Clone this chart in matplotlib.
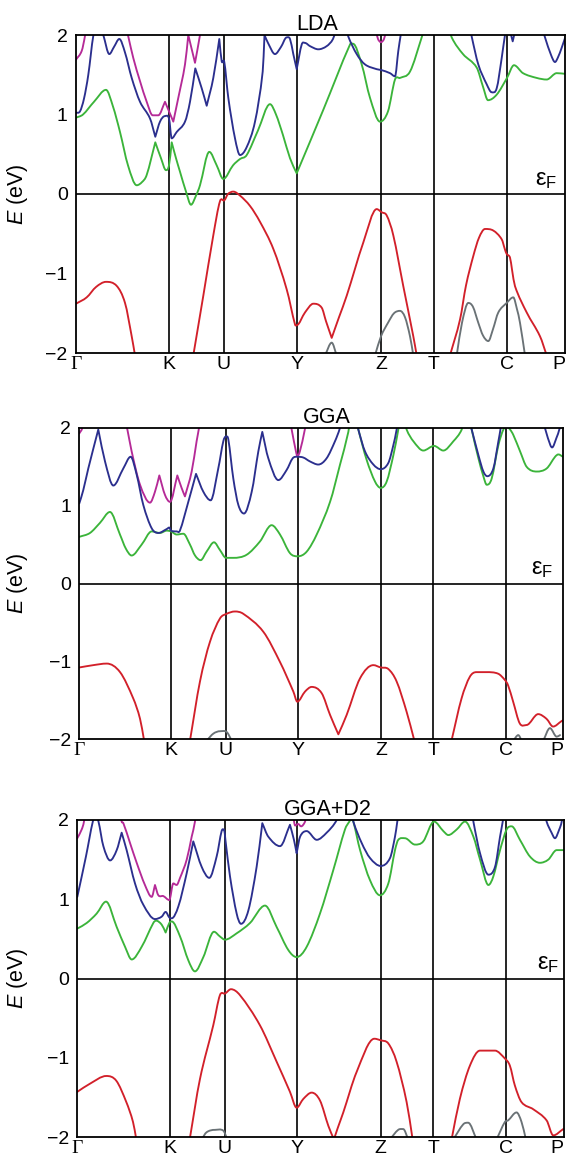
import matplotlib
matplotlib.use('Agg')
import matplotlib.pyplot as plt
from matplotlib.path import Path
from matplotlib.patches import PathPatch
from matplotlib.transforms import ScaledTranslation

plt.rcParams['font.family'] = ['Liberation Sans', 'DejaVu Sans']
plt.rcParams['mathtext.fontset'] = 'custom'
plt.rcParams['mathtext.rm'] = 'Liberation Sans'
plt.rcParams['mathtext.it'] = 'Liberation Sans:italic'

# ---------------- data ----------------
KPOINT_LABELS = ['Γ', 'K', 'U', 'Y', 'Z', 'T', 'C', 'P']
KPOINT_POS = [0, 93, 148, 221, 305, 358, 431, 489]
PANEL_TITLES = ['LDA', 'GGA', 'GGA+D2']
Y_TICKS = [-2, -1, 0, 1, 2]

# ----- LDA -----
LDA_GREEN_A = [(0, 0.96), (7, 1.0), (18, 1.16), (30, 1.31), (37, 1.10), (44, 0.78), (52, 0.36), (60.7, 0.11),
               (66, 0.15), (70.7, 0.24), (79.3, 0.65), (85, 0.45), (90, 0.30), (93, 0.36), (95.7, 0.65), (100, 0.45),
               (104, 0.28), (110, 0.03), (115, -0.135), (120, -0.02), (124, 0.11), (133.3, 0.53), (140.7, 0.36),
               (147.3, 0.19), (157, 0.36), (164, 0.44), (170.7, 0.49), (182, 0.80), (194, 1.13), (200, 1.00),
               (207, 0.74), (214, 0.45), (220.7, 0.26), (247, 1.05), (274, 1.88), (277, 1.89), (285.7, 1.63),
               (294, 1.21), (304, 0.91), (312, 1.04), (319, 1.44), (324, 1.46), (334, 1.54), (345.7, 1.97), (350, 2.15)]
LDA_GREEN_B = [(372, 2.15), (375.7, 1.97), (387, 1.76), (400.7, 1.59), (407, 1.35), (412, 1.18), (420.7, 1.25),
               (431, 1.46), (438, 1.62), (447, 1.52), (460.7, 1.46), (470.7, 1.44), (480.7, 1.52), (490, 1.51)]
LDA_BLUE_A = [(0, 1.02), (4, 1.04), (8, 1.2), (12.3, 1.50), (17.3, 1.99), (22, 2.2), (27.3, 2.0), (33.3, 1.76),
              (38, 1.85), (43.3, 1.95), (49, 1.78), (55.7, 1.46), (64, 1.16), (74, 0.95), (79.3, 0.72), (84, 0.91),
              (89, 0.98), (93, 0.95), (95.7, 0.70), (100.7, 0.78), (109, 0.91), (114, 1.16), (119.3, 1.58),
              (125.7, 1.33), (130.7, 1.11), (137.3, 1.46), (143.3, 1.95), (145.7, 1.67), (148.3, 1.66),
              (152.3, 1.21), (159, 0.70), (164, 0.49), (170.7, 0.59), (179, 0.91), (186.7, 1.54), (188.5, 2.0),
              (192, 1.9), (199, 1.76), (205, 1.85), (210.7, 1.97), (214, 1.95), (217.3, 1.76), (220.7, 1.57),
              (225.7, 1.88), (229, 1.90), (234, 1.86), (242.3, 1.82), (250.7, 1.86), (257, 1.95), (261, 2.1)]
LDA_BLUE_B = [(270, 2.1), (272.3, 1.98), (280.7, 1.76), (289, 1.63), (300.7, 1.57), (305, 1.56), (314, 1.52),
              (319, 1.48), (322.3, 1.80), (324.7, 2.0), (326, 2.1)]
LDA_BLUE_C = [(394, 2.1), (395.7, 1.98), (402.3, 1.63), (410.7, 1.38), (415.7, 1.28), (420.7, 1.33),
              (425.7, 1.71), (429, 2.0), (431, 2.1)]
LDA_BLUE_D = [(433, 2.1), (436.7, 1.92), (440, 2.1)]
LDA_BLUE_E = [(466, 2.1), (469, 1.97), (475, 1.75), (479, 1.66), (482, 1.72), (485.7, 1.84), (490, 2.0)]
LDA_MAGENTA_A = [(0, 1.69), (5.7, 1.80), (9, 1.99), (10, 2.1)]
LDA_MAGENTA_B = [(50, 2.1), (52.3, 1.98), (57.3, 1.71), (64, 1.42), (70.7, 1.16), (76.7, 0.99), (82.3, 0.99),
                 (89, 1.16), (93, 1.04), (97.3, 0.91), (102.3, 1.21), (109, 1.63), (112.3, 2.0), (119, 1.65),
                 (124, 2.0), (125, 2.1)]
LDA_MAGENTA_C = [(300, 2.05), (302, 1.95), (305, 1.91), (308, 1.95), (310, 2.05)]
LDA_RED_A = [(0, -1.38), (10.7, -1.30), (20, -1.17), (30, -1.105), (40.7, -1.156), (49, -1.37), (55.7, -1.79),
             (59, -2.03)]
LDA_RED_B = [(117.3, -2.03), (127.3, -1.28), (137.3, -0.52), (144, -0.09), (148.3, -0.08), (152, 0.0),
             (157.3, 0.03), (164, -0.02), (174, -0.15), (184, -0.35), (197.3, -0.69), (210.7, -1.20),
             (219, -1.64), (220.7, -1.65), (229, -1.49), (237.3, -1.38), (245.7, -1.43), (250, -1.6),
             (255.7, -1.81), (263, -1.55), (270.7, -1.28), (287.3, -0.61), (300.7, -0.19), (305.7, -0.23),
             (310.7, -0.27), (317.3, -0.52), (327.3, -1.16), (337.3, -1.79), (340.7, -2.03)]
LDA_RED_C = [(374, -2.03), (384, -1.58), (390, -1.15), (397.3, -0.78), (403, -0.55), (409, -0.44),
             (417.3, -0.46), (425.7, -0.57), (429, -0.70), (430.7, -0.755), (434, -0.80), (436, -0.95),
             (439, -1.16), (450.7, -1.49), (464, -1.79), (470.7, -2.03)]
LDA_GRAY_A = [(249, -2.03), (255.7, -1.87), (260.7, -2.03)]
LDA_GRAY_B = [(299, -2.03), (305, -1.79), (312, -1.62), (318, -1.5), (324, -1.47), (329, -1.55), (334, -1.79),
              (337.3, -2.03)]
LDA_GRAY_C = [(380.7, -2.03), (386, -1.62), (392.3, -1.37), (397, -1.42), (402.3, -1.62), (407, -1.78),
              (412.3, -1.85), (417, -1.70), (422.3, -1.49), (430.7, -1.37), (437.3, -1.30), (441, -1.45),
              (444, -1.62), (449, -2.03)]

# ----- GGA -----
GGA_GREEN_A = [(0, 0.60), (10.8, 0.65), (20.9, 0.78), (31, 0.92), (41.1, 0.63), (47, 0.45), (52.9, 0.36),
               (63, 0.50), (73.2, 0.67), (81.6, 0.65), (88.3, 0.68), (92.7, 0.67), (98.4, 0.63), (105.2, 0.64),
               (111.9, 0.50), (117, 0.36), (122.7, 0.30), (128.7, 0.41), (136.2, 0.53), (142.2, 0.43),
               (148.3, 0.33), (155.7, 0.33), (169.2, 0.37), (182.6, 0.54), (194.4, 0.75), (202.9, 0.63),
               (213, 0.39), (221, 0.35), (229.9, 0.41), (240, 0.63), (253.5, 1.05), (263.6, 1.53), (272, 1.95),
               (273.5, 2.1)]
GGA_GREEN_B = [(280, 2.1), (282.1, 1.98), (290.5, 1.59), (299, 1.31), (304.7, 1.23), (310.7, 1.31),
               (317.5, 1.65), (322.5, 1.98), (324, 2.1)]
GGA_GREEN_C = [(329, 2.1), (330.9, 1.98), (337.7, 1.83), (347.8, 1.71), (358.6, 1.77), (368, 1.71),
               (378.2, 1.83), (386.6, 1.98), (388, 2.1)]
GGA_GREEN_D = [(395, 2.1), (396.7, 1.98), (403.5, 1.61), (408.5, 1.38), (411.9, 1.27), (416.9, 1.35),
               (423.7, 1.78), (428.7, 1.98), (432, 2.02), (435.5, 1.98), (438.8, 1.91), (445.6, 1.70),
               (452.3, 1.50), (462.4, 1.44), (472.5, 1.48), (481, 1.63), (484.3, 1.66), (489, 1.63)]
GGA_BLUE_A = [(0, 1.03), (4, 1.2), (9.1, 1.48), (19.2, 1.98), (26, 1.57), (34.4, 1.26), (44.5, 1.48),
              (51.9, 1.63), (58, 1.40), (64.7, 1.01), (73.2, 0.71), (79.9, 0.65), (88.3, 0.70), (91, 0.72),
              (92.7, 0.68), (98.4, 0.67), (101.7, 0.68), (110.2, 1.05), (118, 1.41), (125.4, 1.18),
              (132.8, 1.07), (140.5, 1.48), (145.6, 1.83), (148.3, 1.89), (150.7, 1.85), (155.7, 1.35),
              (160.8, 1.01), (166.5, 0.90), (174.3, 1.18), (181, 1.70), (185, 1.95), (191.1, 1.61),
              (201.2, 1.33), (209.6, 1.46), (215.7, 1.61), (220.4, 1.63), (226.5, 1.62), (233.2, 1.57),
              (241.6, 1.53), (250, 1.61), (258.5, 1.83), (263.5, 2.0), (265, 2.1)]
GGA_BLUE_B = [(280, 2.1), (282.1, 1.98), (288.8, 1.70), (297.3, 1.53), (304.7, 1.47), (312.4, 1.55),
              (317.5, 1.78), (320.8, 1.98), (322, 2.1)]
GGA_BLUE_C = [(394, 2.1), (396.7, 1.98), (403.5, 1.65), (408.5, 1.44), (412.5, 1.38), (418.6, 1.48),
              (423.7, 1.83), (426, 2.0), (427, 2.1)]
GGA_BLUE_D = [(469, 2.1), (471.2, 1.98), (476.2, 1.78), (478, 1.75), (482.3, 1.87), (485.7, 2.0), (487, 2.1)]
GGA_MAGENTA_A = [(0, 1.93), (3, 2.0), (4, 2.1)]
GGA_MAGENTA_B = [(46, 2.1), (48.6, 1.98), (52.9, 1.70), (61.4, 1.27), (71.5, 1.04), (76.5, 1.18), (80.9, 1.39),
                 (86.6, 1.14), (91.7, 1.05), (99.1, 1.39), (103.4, 1.23), (106.8, 1.12), (113.6, 1.44),
                 (118.6, 1.83), (121, 2.0), (122, 2.1)]
GGA_MAGENTA_C = [(213, 2.1), (214.7, 1.98), (219, 1.70), (220.4, 1.64), (223, 1.70), (228, 1.98), (229.5, 2.1)]
GGA_RED_A = [(0, -1.08), (14.2, -1.05), (27.7, -1.03), (41.2, -1.14), (54.6, -1.48), (61.4, -1.74),
             (65.5, -2.02)]
GGA_RED_B = [(111.9, -2.02), (122, -1.26), (132.1, -0.75), (142.2, -0.45), (148.9, -0.39), (157.3, -0.36),
             (165.8, -0.39), (186, -0.62), (202.9, -1.01), (216.4, -1.39), (220.4, -1.52), (228.2, -1.39),
             (234.9, -1.33), (245, -1.41), (253.5, -1.69), (261.9, -1.94), (270.3, -1.69), (283.8, -1.22),
             (297.3, -1.05), (304.7, -1.08), (312.4, -1.10), (320.8, -1.26), (330.9, -1.65), (338.7, -2.02)]
GGA_RED_C = [(376.3, -2.02), (386.4, -1.48), (394.8, -1.20), (401.5, -1.14), (411.6, -1.14), (423.4, -1.16),
             (430.2, -1.24), (433.5, -1.31), (438.6, -1.52), (445.3, -1.80), (452.1, -1.82), (463.9, -1.68),
             (472.3, -1.74), (479, -1.84), (487.5, -1.77), (489, -1.76)]
GGA_GRAY_A = [(128.8, -2.02), (135.6, -1.93), (142.3, -1.90), (149, -1.91), (154.1, -2.02)]
GGA_GRAY_B = [(438.8, -2.02), (443.8, -1.95), (447.2, -2.02)]
GGA_GRAY_C = [(469.1, -2.02), (475.8, -1.86), (482.6, -1.97), (486, -1.95)]

# ----- GGA+D2 -----
D2_GREEN_A = [(0, 0.63), (9.4, 0.70), (19.5, 0.82), (28.9, 0.97), (39.6, 0.65), (48, 0.40), (54.7, 0.24),
              (64.7, 0.40), (76.4, 0.70), (79.1, 0.73), (84.8, 0.68), (88.8, 0.58), (92.5, 0.70), (94.9, 0.72),
              (103.3, 0.53), (111.6, 0.23), (118.3, 0.09), (126.7, 0.27), (137.4, 0.59), (143.4, 0.53),
              (148.5, 0.49), (160.2, 0.57), (173.6, 0.70), (188.7, 0.92), (200.4, 0.65), (212.1, 0.36),
              (220.5, 0.27), (230.6, 0.40), (244, 0.82), (257.4, 1.37), (269.1, 1.88), (273.5, 1.98),
              (275.5, 2.01), (277.5, 1.98), (284.3, 1.62), (294.3, 1.24), (304.3, 1.05), (312.7, 1.20),
              (319.4, 1.62), (322.7, 1.75), (329.4, 1.77), (339.4, 1.69), (347.8, 1.73), (358.6, 1.98),
              (368, 1.86), (373, 1.81), (381.4, 1.88), (389.8, 1.98), (398.2, 1.79), (404.9, 1.50),
              (413.3, 1.18), (418.3, 1.29), (425, 1.62), (431.6, 1.88), (436.7, 1.92), (445, 1.75),
              (455, 1.54), (465.1, 1.46), (473.5, 1.50), (481.9, 1.62), (489, 1.62)]
D2_BLUE_A = [(0, 1.03), (8.7, 1.54), (15.6, 1.98), (18.5, 2.05), (21.3, 1.98), (26.2, 1.67), (33, 1.49),
             (39.6, 1.62), (44.6, 1.84), (49.6, 1.62), (58, 1.20), (66.4, 0.93), (78.1, 0.75), (84.8, 0.78),
             (88.8, 0.84), (92.5, 0.77), (94.9, 0.76), (101.6, 0.91), (110, 1.33), (116.6, 1.73), (125, 1.41),
             (132.7, 1.27), (140.1, 1.54), (145.1, 1.86), (147.5, 1.88), (148.9, 1.75), (153.5, 1.29),
             (160.2, 0.82), (164.6, 0.69), (172, 0.86), (180.3, 1.41), (186, 1.96), (192, 1.79),
             (203.8, 1.67), (213.8, 1.94), (217.8, 1.75), (220.5, 1.58), (224, 1.79), (230.6, 1.86),
             (240.7, 1.75), (250.7, 1.84), (260.8, 2.0), (262, 2.1)]
D2_BLUE_B = [(276, 2.1), (277.5, 1.98), (285.9, 1.71), (294.3, 1.52), (305, 1.42), (314.4, 1.52),
             (319.4, 1.79), (321.7, 1.98), (323, 2.1)]
D2_BLUE_C = [(397, 2.1), (398.2, 1.98), (404.9, 1.58), (413.3, 1.31), (420, 1.41), (425, 1.79),
             (427.7, 1.98), (429, 2.1)]
D2_BLUE_D = [(470, 2.1), (471.8, 1.98), (476.8, 1.84), (480.2, 1.77), (484.5, 1.88), (487, 1.98), (488, 2.1)]
D2_MAGENTA_A = [(0, 1.77), (4.4, 1.88), (6.7, 1.98), (7.5, 2.1)]
D2_MAGENTA_B = [(43, 2.1), (44.6, 1.98), (46.3, 1.96), (53, 1.71), (59.7, 1.46), (68, 1.18), (74.8, 1.03),
                (78.1, 1.18), (81.5, 1.05), (86.5, 1.04), (92.5, 0.99), (96.5, 1.20), (99.8, 1.18),
                (103.3, 1.27), (110, 1.50), (115, 1.79), (118.3, 1.98), (119, 2.1)]
D2_MAGENTA_C = [(217, 2.05), (219, 1.93), (222, 1.95), (225, 1.92), (229, 1.98), (230, 2.05)]
D2_RED_A = [(0, -1.43), (12.4, -1.33), (29.2, -1.23), (39.2, -1.29), (49.3, -1.56), (56, -1.81), (59.3, -2.03)]
D2_RED_B = [(113, -2.03), (123.3, -1.27), (136.7, -0.59), (143.4, -0.21), (148.5, -0.19), (154.5, -0.135),
            (163.5, -0.21), (183.6, -0.59), (200.4, -1.05), (213.8, -1.43), (220.5, -1.63), (227.2, -1.52),
            (235.6, -1.44), (244, -1.54), (252.4, -1.86), (258, -2.03), (262, -1.88), (267.4, -1.69),
            (280.8, -1.18), (298.6, -0.76), (305, -0.78), (312.7, -0.82), (321, -1.05), (331.1, -1.56),
            (337.1, -2.03)]
D2_RED_C = [(376.3, -2.03), (384.6, -1.52), (394.7, -1.10), (404.8, -0.91), (419.9, -0.91), (429.9, -1.01),
            (434.9, -1.10), (439.9, -1.35), (446.6, -1.56), (458.4, -1.65), (471.8, -1.79), (478.5, -1.98),
            (488.5, -1.90)]
D2_GRAY_A = [(125, -2.03), (130, -1.94), (138.4, -1.91), (146.8, -1.92), (150.8, -2.03)]
D2_GRAY_B = [(314.3, -2.03), (322.6, -1.91), (327.7, -1.90), (332.7, -2.03)]
D2_GRAY_C = [(378, -2.03), (388, -1.84), (393, -1.82), (401.4, -2.03)]
D2_GRAY_D = [(421.5, -2.03), (429.9, -1.81), (433.2, -1.79), (441.6, -1.69), (446.6, -1.81), (451, -2.03)]

# ---------------- style ----------------
COLORS = {'red': '#d2202a', 'green': '#3bb43a', 'blue': '#2b2f8e', 'magenta': '#b52a97', 'gray': '#6a7276'}

PANELS = [
    {'gray': [LDA_GRAY_A, LDA_GRAY_B, LDA_GRAY_C], 'red': [LDA_RED_A, LDA_RED_B, LDA_RED_C],
     'green': [LDA_GREEN_A, LDA_GREEN_B], 'magenta': [LDA_MAGENTA_A, LDA_MAGENTA_B, LDA_MAGENTA_C],
     'blue': [LDA_BLUE_A, LDA_BLUE_B, LDA_BLUE_C, LDA_BLUE_D, LDA_BLUE_E]},
    {'gray': [GGA_GRAY_A, GGA_GRAY_B, GGA_GRAY_C], 'red': [GGA_RED_A, GGA_RED_B, GGA_RED_C],
     'green': [GGA_GREEN_A, GGA_GREEN_B, GGA_GREEN_C, GGA_GREEN_D],
     'magenta': [GGA_MAGENTA_A, GGA_MAGENTA_B, GGA_MAGENTA_C],
     'blue': [GGA_BLUE_A, GGA_BLUE_B, GGA_BLUE_C, GGA_BLUE_D]},
    {'gray': [D2_GRAY_A, D2_GRAY_B, D2_GRAY_C, D2_GRAY_D], 'red': [D2_RED_A, D2_RED_B, D2_RED_C],
     'green': [D2_GREEN_A], 'magenta': [D2_MAGENTA_A, D2_MAGENTA_B, D2_MAGENTA_C],
     'blue': [D2_BLUE_A, D2_BLUE_B, D2_BLUE_C, D2_BLUE_D]},
]


def band_path(seg):
    """Smooth cubic path through the read points (drawn by matplotlib's Bezier renderer)."""
    ks = [p[0] for p in seg]
    es = [p[1] for p in seg]
    n = len(ks)
    sl = [(es[i + 1] - es[i]) / (ks[i + 1] - ks[i]) for i in range(n - 1)]
    tang = []
    for i in range(n):
        if i == 0:
            tang.append(sl[0])
        elif i == n - 1:
            tang.append(sl[-1])
        else:
            s1, s2 = sl[i - 1], sl[i]
            if s1 * s2 <= 0:
                tang.append(None if min(abs(s1), abs(s2)) > 0.025 else 0.0)
            else:
                tang.append((es[i + 1] - es[i - 1]) / (ks[i + 1] - ks[i - 1]))
    verts = [(ks[0], es[0])]
    codes = [Path.MOVETO]
    for i in range(n - 1):
        dk = ks[i + 1] - ks[i]
        m0 = tang[i] if tang[i] is not None else sl[i]
        m1 = tang[i + 1] if tang[i + 1] is not None else sl[i]
        verts += [(ks[i] + dk / 3, es[i] + m0 * dk / 3), (ks[i + 1] - dk / 3, es[i + 1] - m1 * dk / 3),
                  (ks[i + 1], es[i + 1])]
        codes += [Path.CURVE4] * 3
    return Path(verts, codes)


W, H = 569, 1159
# (left, right, top, bottom) in pixels
AX_PIX = [(76, 565, 35, 353), (79.3, 563, 428, 739), (77.3, 563.7, 820, 1137)]
TITLE_X = [0.494, 0.512, 0.516]
EF_X = [0.984, 0.979, 0.99]

fig = plt.figure(figsize=(W / 100, H / 100), dpi=100)
for i, (l, r, t, b) in enumerate(AX_PIX):
    ax = fig.add_axes([l / W, 1 - b / H, (r - l) / W, (b - t) / H])
    ax.set_xlim(KPOINT_POS[0], KPOINT_POS[-1])
    ax.set_ylim(-2, 2)
    for kp in KPOINT_POS[1:-1]:
        ax.axvline(kp, color='black', lw=1.2, zorder=1)
    ax.axhline(0, color='black', lw=1.2, zorder=1)
    for cname in ['gray', 'red', 'green', 'magenta', 'blue']:
        for seg in PANELS[i][cname]:
            ax.add_patch(PathPatch(band_path(seg), fill=False, edgecolor=COLORS[cname], lw=1.35,
                                   joinstyle='round', capstyle='round', zorder=2))
    for sp in ax.spines.values():
        sp.set_linewidth(1.3)
    ax.set_yticks(Y_TICKS)
    ax.set_yticklabels(['\u2212' + str(abs(v)) if v < 0 else str(v) for v in Y_TICKS], fontsize=14)
    ax.set_xticks(KPOINT_POS)
    ax.set_xticklabels(KPOINT_LABELS, fontsize=14)
    xtl = ax.get_xticklabels()
    xtl[0].set_fontfamily('Liberation Serif')
    xtl[-1].set_horizontalalignment('right')
    xtl[-1].set_transform(xtl[-1].get_transform() + ScaledTranslation(3.5 / 100, 0, fig.dpi_scale_trans))
    ax.tick_params(axis='y', length=0, pad=6)
    ax.tick_params(axis='x', length=0, pad=2)
    ax.set_title(PANEL_TITLES[i], fontsize=15.5, x=TITLE_X[i], pad=3.5)
    ax.text(EF_X[i], 0.04, r'$\mathrm{ε}_{\mathrm{F}}$', transform=ax.get_yaxis_transform(),
            ha='right', va='bottom', fontsize=17)
    fig.text(18 / W, 1 - ((t + b) / 2) / H, r'$E$ (eV)', rotation=90, ha='center', va='center', fontsize=15.5)

fig.savefig('out.png', dpi=100)
